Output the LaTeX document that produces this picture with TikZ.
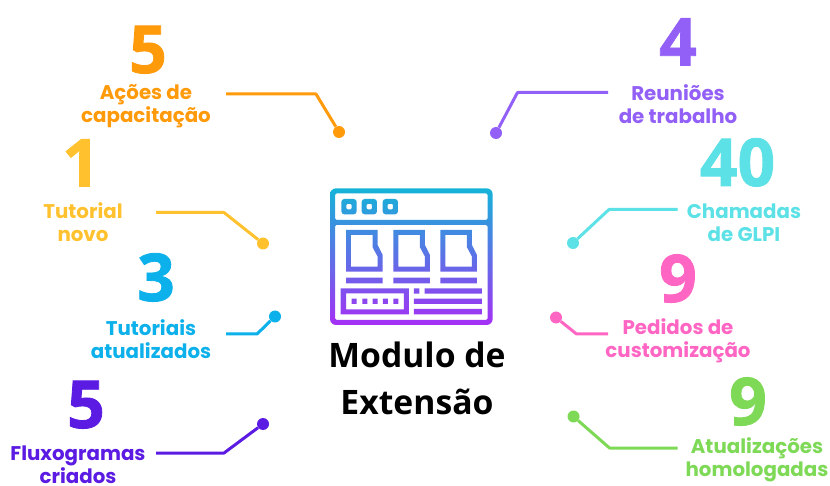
\documentclass[tikz,border=0pt]{standalone}
\usepackage{fontspec}
\setmainfont{Open Sans}
\newfontfamily\labfont{Poppins}
\newfontfamily\numfont[FakeBold=1.2]{Open Sans}
\definecolor{corange}{HTML}{FF9A0A}
\definecolor{cyellow}{HTML}{FFC22E}
\definecolor{cblue}{HTML}{0CB0EA}
\definecolor{cindigo}{HTML}{5B1BE3}
\definecolor{cpurple}{HTML}{9360F7}
\definecolor{ccyan}{HTML}{5CE1E6}
\definecolor{cpink}{HTML}{FF66C4}
\definecolor{cgreen}{HTML}{7ED957}
\definecolor{icontop}{HTML}{14B4D8}
\definecolor{iconmid}{HTML}{4F7FE8}
\definecolor{iconbot}{HTML}{A52FF5}
\tikzset{
  numlabel/.style={anchor=base,inner sep=0pt,font=\numfont\fontsize{66}{66}\selectfont\bfseries},
  caption/.style={anchor=center,inner sep=0pt,align=center,font=\labfont\fontsize{19.8}{23}\selectfont\bfseries},
  title/.style={anchor=center,inner sep=0pt,align=center,font=\fontsize{33.7}{47}\selectfont\bfseries},
  enddot/.style={circle,inner sep=0pt,minimum size=12pt},
  leader/.style={line width=3pt,line join=round}
}
% one card of the icon, offset #1 in the icon's own units (outline and hole)
\newcommand{\cardpath}[1]{
  (108+#1,180) -- (203+#1,180) -- (203+#1,225) -- (218+#1,255) -- (218+#1,305) -- (108+#1,305) -- cycle
  (123+#1,195) -- (188+#1,195) -- (188+#1,232) -- (203+#1,260) -- (203+#1,290) -- (123+#1,290) -- cycle
  (108+#1,323) rectangle (218+#1,340)
}
\newcommand{\dotpath}[1]{
  [rounded corners=3pt] (#1-23,87) rectangle (#1+23,133) [rounded corners=1pt] (#1-8,102) rectangle (#1+8,118) [sharp corners]
}
\begin{document}
\begin{tikzpicture}[x=1pt,y=-1pt]
\path[use as bounding box,fill=white] (0,0) rectangle (830,486);

% icon
\begin{scope}[shift={(310,170)},x=0.3333pt,y=-0.3333pt]
\shade[top color=icontop,middle color=iconmid,bottom color=iconbot,even odd rule]
  [rounded corners=6pt] (60,55) rectangle (548,465)
  [rounded corners=1.5pt] (75,70) rectangle (533,150) (75,165) rectangle (533,450)
  [sharp corners]
  \dotpath{117} \dotpath{178} \dotpath{241}
  \cardpath{0} \cardpath{142} \cardpath{283}
  (92,355) rectangle (297,433) (108,370) rectangle (282,418)
  (125,386) rectangle (140,402) (157,386) rectangle (172,402) (188,386) rectangle (203,402)
  (219,386) rectangle (234,402) (250,386) rectangle (265,402)
  (312,355) rectangle (328,371) (344,355) rectangle (516,371)
  (312,386) rectangle (516,402) (312,417) rectangle (516,433);
\end{scope}

\node[title] (title) at (417,378) {Modulo de\\Extensão};

% numbers
\node[numlabel,text=corange] (n1) at (148,73) {5};
\node[numlabel,text=cyellow] (n2) at (81,186.5) {1};
\node[numlabel,text=cblue] (n3) at (156,301) {3};
\node[numlabel,text=cindigo] (n4) at (86,428) {5};
\node[numlabel,text=cpurple] (n5) at (678,65.5) {4};
\node[numlabel,text=ccyan] (n6) at (737.5,186) {40};
\node[numlabel,text=cpink] (n7) at (678,302) {9};
\node[numlabel,text=cgreen] (n8) at (748,425) {9};

% captions
\node[caption,text=corange] (t1) at (146,106) {Ações de\\capacitação};
\node[caption,text=cyellow] (t2) at (83,222.5) {Tutorial\\novo};
\node[caption,text=cblue] (t3) at (151,339) {Tutoriais\\atualizados};
\node[caption,text=cindigo] (t4) at (78,464.5) {Fluxogramas\\criados};
\node[caption,text=cpurple] (t5) at (678,104) {Reuniões\\de trabalho};
\node[caption,text=ccyan] (t6) at (744,222.5) {Chamadas\\de GLPI};
\node[caption,text=cpink] (t7) at (678,340.5) {Pedidos de\\customização};
\node[caption,text=cgreen] (t8) at (757,460) {Atualizações\\homologadas};

% end dots
\node[enddot,fill=corange] (d1) at (339,132) {};
\node[enddot,fill=cyellow] (d2) at (263,243.5) {};
\node[enddot,fill=cblue] (d3) at (275,316.5) {};
\node[enddot,fill=cindigo] (d4) at (263,424) {};
\node[enddot,fill=cpurple] (d5) at (496,133) {};
\node[enddot,fill=ccyan] (d6) at (573,243) {};
\node[enddot,fill=cpink] (d7) at (556,317.5) {};
\node[enddot,fill=cgreen] (d8) at (573.5,416.5) {};

% free ends of the connectors
\coordinate (s1) at (226,94);
\coordinate (s2) at (156,212.5);
\coordinate (s3) at (226,334);
\coordinate (s4) at (156,453);
\coordinate (s5) at (608,92.5);
\coordinate (s6) at (677.5,209.5);
\coordinate (s7) at (608,334);
\coordinate (s8) at (677.5,448);

% connectors
\draw[leader,corange] (s1) -- (316,94) -- (d1);
\draw[leader,cyellow] (s2) -- (224,212.5) -- (d2);
\draw[leader,cblue] (s3) -- (257,334) -- (d3);
\draw[leader,cindigo] (s4) -- (224,453) -- (d4);
\draw[leader,cpurple] (s5) -- (517.5,92.5) -- (d5);
\draw[leader,ccyan] (s6) -- (609,209.5) -- (d6);
\draw[leader,cpink] (s7) -- (576.5,334) -- (d7);
\draw[leader,cgreen] (s8) -- (609.5,448) -- (d8);
\end{tikzpicture}
\end{document}
